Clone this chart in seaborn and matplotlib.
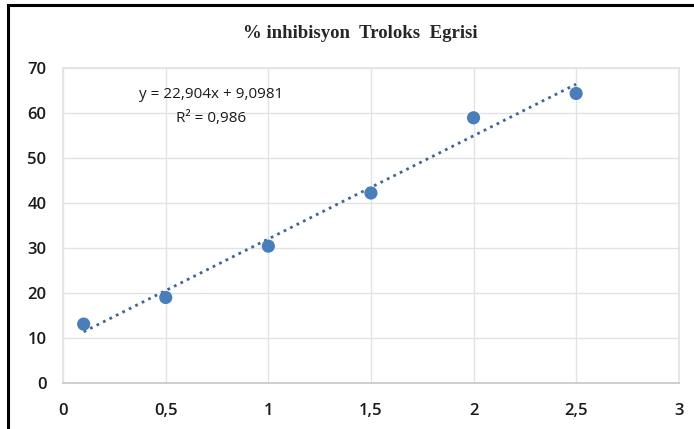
import numpy as np
import pandas as pd
import seaborn as sns
import matplotlib.pyplot as plt
from matplotlib.ticker import FuncFormatter, MultipleLocator
from matplotlib.patches import Rectangle

# concentration vs % inhibition
konsantrasyon = [0.1, 0.5, 1.0, 1.5, 2.0, 2.5]
inhibisyon = [13.1, 19.0, 30.4, 42.2, 58.9, 64.3]
egim = 22.904
kesisim = 9.0981
r2 = 0.986

data = pd.DataFrame({"x": konsantrasyon, "y": inhibisyon})
trend = pd.DataFrame({"x": [min(konsantrasyon), max(konsantrasyon)]})
trend["y"] = egim * trend["x"] + kesisim

sns.set_theme(style="white")
plt.rcParams['font.family'] = ['Open Sans', 'DejaVu Sans']

fig = plt.figure(figsize=(6.94, 4.29), dpi=100)
ax = fig.add_axes([0.091, 0.107, 0.887, 0.735])

sns.lineplot(data=trend, x="x", y="y", ax=ax, color="#3f6790",
             linestyle=(0, (1, 1.6)), linewidth=2.0)
sns.scatterplot(data=data, x="x", y="y", ax=ax, color="#4a7ebb",
                s=90, edgecolor="none", zorder=3)

ax.set_xlim(0, 3)
ax.set_ylim(0, 70)
ax.xaxis.set_major_locator(MultipleLocator(0.5))
ax.yaxis.set_major_locator(MultipleLocator(10))
comma = FuncFormatter(lambda v, p: f"{v:g}".replace(".", ","))
ax.xaxis.set_major_formatter(comma)
ax.yaxis.set_major_formatter(comma)
ax.grid(True, color="#e3e3e3", linewidth=1)
for side in ["top", "right", "left"]:
    ax.spines[side].set_color("#e3e3e3")
ax.spines["bottom"].set_color("#c8c8c8")
ax.tick_params(axis="both", length=0, labelsize=12, colors="#1a1a1a")
ax.tick_params(axis="x", pad=14)
ax.tick_params(axis="y", pad=12)
for lab in ax.get_xticklabels() + ax.get_yticklabels():
    lab.set_fontweight("semibold")
ax.set_xlabel("")
ax.set_ylabel("")

ax.text(0.72, 64.0, f"y = {egim:g}x + {kesisim:g}".replace(".", ","),
        ha="center", va="center", fontsize=11, color="#1a1a1a")
ax.text(0.72, 58.7, f"R² = {r2:g}".replace(".", ","), ha="center",
        va="center", fontsize=11, color="#1a1a1a")

fig.text(0.519, 0.922, "% inhibisyon  Troloks  Egrisi", ha="center",
         va="center", fontsize=13.5, fontweight="bold", family="Liberation Serif")

fig.add_artist(Rectangle((0.0115, -0.2), 1.5, 1.188, transform=fig.transFigure,
                         fill=False, edgecolor="black", linewidth=2.2))

fig.savefig("out.png", dpi=100)
